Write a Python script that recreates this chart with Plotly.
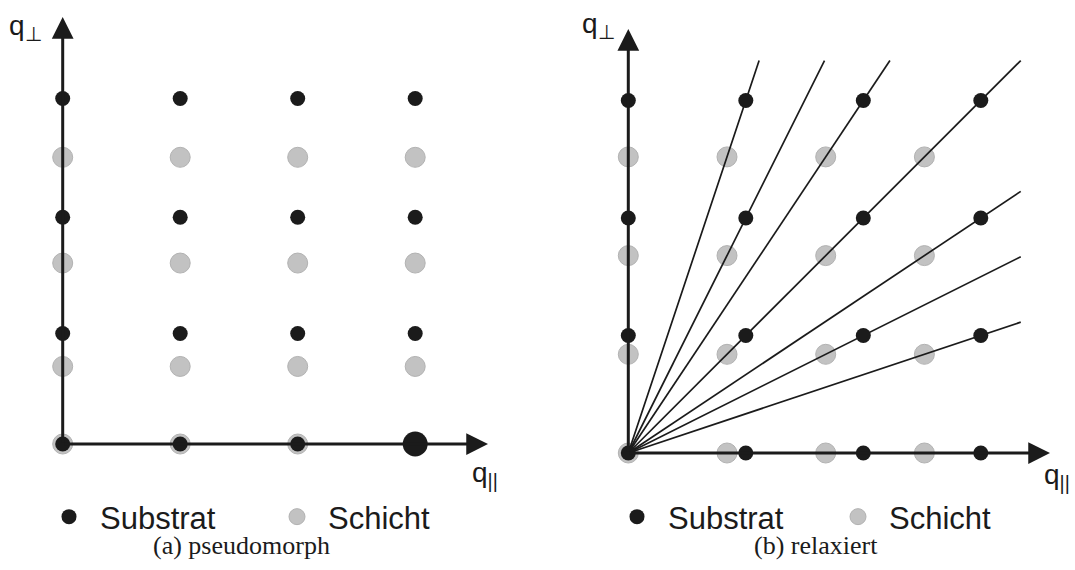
import plotly.graph_objects as go

# ---------------- data (lattice units) ----------------
# (a) pseudomorph
a_cols = [0, 1, 2, 3]                      # q_parallel positions (same for both)
a_sub_rows = [0, 0.94, 1.93, 2.94]         # Substrat q_perp rows
a_lay_rows = [0, 0.66, 1.54, 2.44]         # Schicht q_perp rows
a_big = (3, 0)                             # enlarged substrate spot

# (b) relaxiert
b_sub = [0, 1, 2, 3]                       # Substrat lattice (both directions)
b_lay = [0, 0.84, 1.68, 2.52]              # Schicht lattice (both directions)
b_dirs = [(1, 3), (1, 2), (2, 3), (1, 1), (3, 2), (2, 1), (3, 1)]  # radial lines through substrate spots
b_extent = 3.34

legend_names = ["Substrat", "Schicht"]
captions = ["(a) pseudomorph", "(b) relaxiert"]

BLACK = "#1b1b1b"
GRAY = "#c2c2c2"
FONT = "Liberation Sans, Arial, sans-serif"

W, H = 1075, 570
UNIT = 117.5
a_origin = (62.7, 444.0)
b_origin = (628.3, 453.0)


def xr(ox):
    return [-ox / UNIT, (W - ox) / UNIT]


def yr(oy):
    return [-(H - oy) / UNIT, oy / UNIT]


fig = go.Figure()

# ---- panel (a) ----
ax_, ay_ = [], []
for yv in a_lay_rows:
    for xv in a_cols:
        ax_.append(xv); ay_.append(yv)
fig.add_trace(go.Scatter(x=ax_, y=ay_, mode="markers", name=legend_names[1],
                         marker=dict(size=20, color=GRAY, line=dict(color="#b2b2b2", width=1)),
                         xaxis="x", yaxis="y", legend="legend", legendrank=2))
bx_, by_ = [], []
for yv in a_sub_rows:
    for xv in a_cols:
        if (xv, yv) == a_big:
            continue
        bx_.append(xv); by_.append(yv)
fig.add_trace(go.Scatter(x=bx_, y=by_, mode="markers", name=legend_names[0],
                         marker=dict(size=15, color=BLACK),
                         xaxis="x", yaxis="y", legend="legend", legendrank=1))
fig.add_trace(go.Scatter(x=[a_big[0]], y=[a_big[1]], mode="markers", showlegend=False,
                         marker=dict(size=25, color=BLACK), xaxis="x", yaxis="y"))

# ---- panel (b) ----
gx, gy = [], []
for yv in b_lay:
    for xv in b_lay:
        gx.append(xv); gy.append(yv)
fig.add_trace(go.Scatter(x=gx, y=gy, mode="markers", name=legend_names[1],
                         marker=dict(size=20, color=GRAY, line=dict(color="#b2b2b2", width=1)),
                         xaxis="x2", yaxis="y2", legend="legend2", legendrank=2))
lx, ly = [], []
for i, j in b_dirs:
    t = min(b_extent / i, b_extent / j)
    lx += [0, i * t, None]
    ly += [0, j * t, None]
fig.add_trace(go.Scatter(x=lx, y=ly, mode="lines", showlegend=False,
                         line=dict(color=BLACK, width=1.7), xaxis="x2", yaxis="y2"))
sx, sy = [], []
for yv in b_sub:
    for xv in b_sub:
        sx.append(xv); sy.append(yv)
fig.add_trace(go.Scatter(x=sx, y=sy, mode="markers", name=legend_names[0],
                         marker=dict(size=15, color=BLACK),
                         xaxis="x2", yaxis="y2", legend="legend2", legendrank=1))

# ---- axes arrows ----
def arrow(xref, yref, x, y):
    return dict(x=x, y=y, ax=0, ay=0, xref=xref, yref=yref, axref=xref, ayref=yref,
                text="", showarrow=True, arrowhead=2, arrowsize=1.45, arrowwidth=3,
                arrowcolor=BLACK, standoff=0)

annotations = [
    arrow("x", "y", 0, (a_origin[1] - 17) / UNIT),
    arrow("x", "y", (488 - a_origin[0]) / UNIT, 0),
    arrow("x2", "y2", 0, (b_origin[1] - 29) / UNIT),
    arrow("x2", "y2", (1050 - b_origin[0]) / UNIT, 0),
]

lab_font = dict(family=FONT, size=28, color=BLACK)
annotations += [
    dict(text="q<sub>⊥</sub>", x=7 / W, y=1 - 8 / H, xref="paper", yref="paper",
         xanchor="left", yanchor="top", showarrow=False, font=lab_font),
    dict(text="q<sub>||</sub>", x=470 / W, y=1 - 455 / H, xref="paper", yref="paper",
         xanchor="left", yanchor="top", showarrow=False, font=lab_font),
    dict(text="q<sub>⊥</sub>", x=580 / W, y=1 - 6 / H, xref="paper", yref="paper",
         xanchor="left", yanchor="top", showarrow=False, font=lab_font),
    dict(text="q<sub>||</sub>", x=1042 / W, y=1 - 457 / H, xref="paper", yref="paper",
         xanchor="left", yanchor="top", showarrow=False, font=lab_font),
]
cap_font = dict(family="Liberation Serif, Times New Roman, serif", size=26, color=BLACK)
annotations += [
    dict(text=captions[0], x=241 / W, y=1 - 545 / H, xref="paper", yref="paper",
         xanchor="center", yanchor="middle", showarrow=False, font=cap_font),
    dict(text=captions[1], x=816 / W, y=1 - 545 / H, xref="paper", yref="paper",
         xanchor="center", yanchor="middle", showarrow=False, font=cap_font),
]

leg_common = dict(orientation="h", xanchor="left", yanchor="middle",
                  font=dict(family=FONT, size=31, color=BLACK),
                  bgcolor="rgba(0,0,0,0)", entrywidthmode="pixels",
                  itemwidth=52, traceorder="normal")

fig.update_layout(
    width=W, height=H,
    margin=dict(l=0, r=0, t=0, b=0),
    paper_bgcolor="white", plot_bgcolor="white",
    xaxis=dict(range=xr(a_origin[0]), domain=[0, 1], visible=False, fixedrange=True),
    yaxis=dict(range=yr(a_origin[1]), domain=[0, 1], visible=False, fixedrange=True),
    xaxis2=dict(range=xr(b_origin[0]), domain=[0, 1], visible=False, overlaying="x", anchor="y2"),
    yaxis2=dict(range=yr(b_origin[1]), domain=[0, 1], visible=False, overlaying="y", anchor="x2"),
    legend=dict(x=38 / W, y=1 - 517 / H, entrywidth=161, **leg_common),
    legend2=dict(x=606 / W, y=1 - 517 / H, entrywidth=154, **leg_common),
    annotations=annotations,
    showlegend=True,
)

fig.write_html("out.html", config={"displayModeBar": False},
               post_script="document.body.style.margin='0';document.body.style.padding='0';")
